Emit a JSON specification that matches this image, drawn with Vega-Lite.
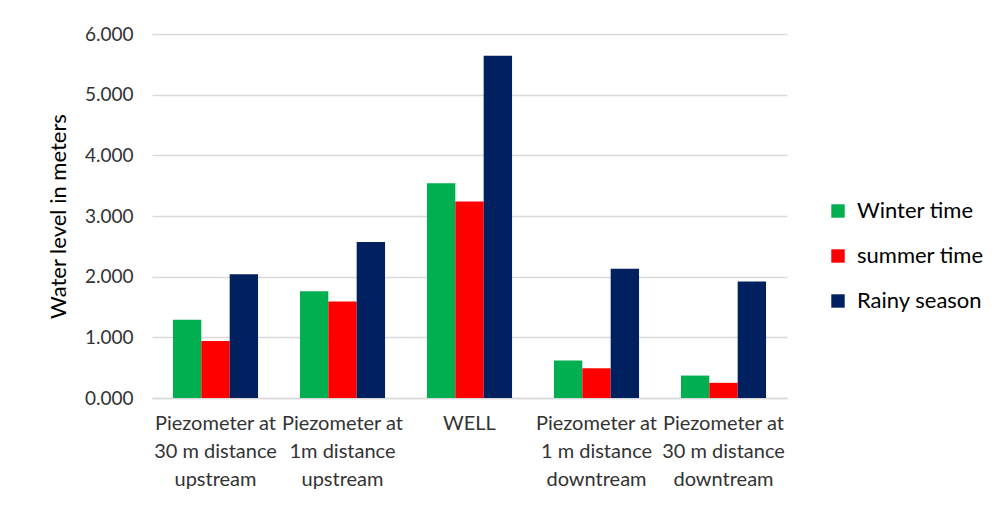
{
  "$schema": "https://vega.github.io/schema/vega-lite/v6.json",
  "autosize": "none",
  "width": 635,
  "height": 364,
  "padding": {"left": 152, "top": 34, "right": 215, "bottom": 107},
  "background": "white",
  "config": {
    "view": {"stroke": null},
    "font": "Lato",
    "axis": {"labelFont": "Lato", "titleFont": "Lato"},
    "legend": {"labelFont": "Lato"}
  },
  "data": {
    "values": [
      {"location": "Piezometer at|30 m distance|upstream", "season": "Winter time", "level": 1.29},
      {"location": "Piezometer at|30 m distance|upstream", "season": "summer time", "level": 0.94},
      {"location": "Piezometer at|30 m distance|upstream", "season": "Rainy season", "level": 2.04},
      {"location": "Piezometer at|1m distance|upstream", "season": "Winter time", "level": 1.76},
      {"location": "Piezometer at|1m distance|upstream", "season": "summer time", "level": 1.59},
      {"location": "Piezometer at|1m distance|upstream", "season": "Rainy season", "level": 2.57},
      {"location": "WELL", "season": "Winter time", "level": 3.54},
      {"location": "WELL", "season": "summer time", "level": 3.24},
      {"location": "WELL", "season": "Rainy season", "level": 5.64},
      {"location": "Piezometer at|1 m distance|downtream", "season": "Winter time", "level": 0.62},
      {"location": "Piezometer at|1 m distance|downtream", "season": "summer time", "level": 0.49},
      {"location": "Piezometer at|1 m distance|downtream", "season": "Rainy season", "level": 2.13},
      {"location": "Piezometer at|30 m distance|downtream", "season": "Winter time", "level": 0.37},
      {"location": "Piezometer at|30 m distance|downtream", "season": "summer time", "level": 0.25},
      {"location": "Piezometer at|30 m distance|downtream", "season": "Rainy season", "level": 1.92}
    ]
  },
  "mark": {"type": "bar"},
  "encoding": {
    "x": {
      "field": "location",
      "type": "nominal",
      "sort": null,
      "scale": {"paddingInner": 0.33, "paddingOuter": 0.165},
      "axis": {
        "title": null,
        "labelAngle": 0,
        "labelExpr": "split(datum.label, '|')",
        "labelFontSize": 20,
        "labelColor": "#333333",
        "labelLineHeight": 28,
        "labelPadding": 15,
        "labelBaseline": "top",
        "labelLimit": 200,
        "labelOverlap": false,
        "ticks": false,
        "domain": true,
        "domainColor": "#d9d9d9",
        "domainWidth": 1.5
      }
    },
    "xOffset": {
      "field": "season",
      "type": "nominal",
      "sort": ["Winter time", "summer time", "Rainy season"]
    },
    "y": {
      "field": "level",
      "type": "quantitative",
      "scale": {"domain": [0, 6]},
      "axis": {
        "title": "Water level in meters",
        "titleFontSize": 22,
        "titleFontWeight": "normal",
        "titleColor": "#000000",
        "titlePadding": 14,
        "format": ".3f",
        "values": [0, 1, 2, 3, 4, 5, 6],
        "labelFontSize": 19,
        "labelColor": "#333333",
        "labelPadding": 19,
        "ticks": false,
        "domain": false,
        "gridColor": "#d9d9d9",
        "gridWidth": 1.5
      }
    },
    "color": {
      "field": "season",
      "type": "nominal",
      "sort": ["Winter time", "summer time", "Rainy season"],
      "scale": {
        "domain": ["Winter time", "summer time", "Rainy season"],
        "range": ["#00B050", "#FF0000", "#002060"]
      },
      "legend": {
        "title": null,
        "orient": "none",
        "legendX": 675,
        "legendY": 166,
        "symbolType": "square",
        "symbolSize": 180,
        "labelFontSize": 22,
        "labelColor": "#000000",
        "rowPadding": 23,
        "labelOffset": 8,
        "labelLimit": 300
      }
    }
  }
}
